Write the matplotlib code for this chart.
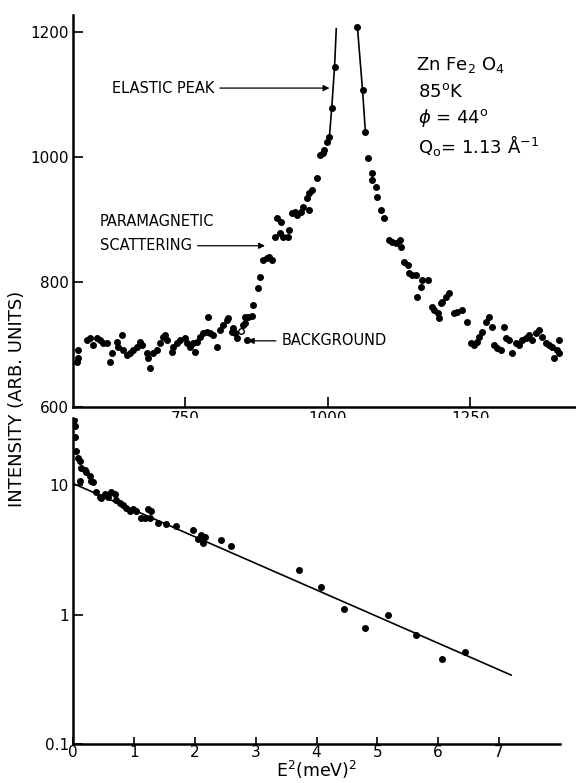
# ZnFe2O4 paramagnetic scattering: TOF spectrum and log intensity vs E^2

import matplotlib
matplotlib.use('Agg')
import matplotlib.pyplot as plt

# Top panel: time-of-flight spectrum (scattered points)
tof_x = [563, 563, 561, 578, 584, 589, 596, 601, 606, 613, 619, 622, 631, 633, 640, 641,
         648, 654, 659, 666, 671, 675, 683, 685, 689, 694, 701, 706, 711, 715, 718, 727,
         729, 736, 741, 750, 753, 758, 764, 767, 771, 776, 781, 788, 790, 793, 799, 806,
         811, 816, 823, 825, 832, 834, 837, 841, 851, 855, 855, 858, 860, 867, 869, 877,
         882, 886, 893, 898, 902, 907, 912, 916, 919, 921, 930, 933, 937, 942, 947, 954,
         956, 963, 968, 968, 972, 981, 986, 991, 994, 998,
         1070, 1077, 1078, 1085, 1087, 1094, 1099, 1108, 1113, 1120, 1126, 1129, 1134, 1140,
         1143, 1148, 1155, 1157, 1164, 1165, 1175, 1182, 1187, 1193, 1195, 1199, 1201, 1208,
         1213, 1222, 1227, 1236, 1244, 1251, 1257, 1262, 1265, 1271, 1278, 1283, 1288, 1292,
         1297, 1304, 1309, 1313, 1318, 1323, 1330, 1335, 1341, 1348, 1353, 1358, 1365, 1370,
         1376, 1383, 1388, 1393, 1397, 1402, 1405, 1405]
tof_y = [691, 678, 672, 707, 710, 699, 710, 707, 702, 702, 672, 686, 704, 696, 715, 691,
         683, 686, 691, 696, 704, 699, 686, 678, 662, 686, 691, 702, 712, 715, 707, 688,
         696, 702, 707, 710, 702, 696, 702, 688, 704, 712, 718, 720, 744, 718, 715, 696,
         723, 731, 739, 742, 720, 726, 718, 710, 731, 734, 744, 707, 744, 746, 763, 790,
         808, 835, 838, 840, 835, 872, 902, 878, 896, 872, 872, 883, 910, 912, 907, 912,
         920, 934, 915, 942, 947, 966, 1003, 1006, 1011, 1024,
         998, 974, 963, 952, 936, 915, 902, 867, 864, 862, 867, 856, 832, 827,
         814, 811, 811, 776, 792, 803, 803, 760, 755, 750, 742, 766, 768, 776,
         782, 750, 752, 755, 736, 702, 699, 704, 712, 720, 736, 744, 728, 699,
         694, 691, 728, 710, 707, 686, 702, 699, 707, 710, 715, 707, 718, 723,
         712, 702, 699, 696, 678, 691, 686, 707]
open_x = [848]
open_y = [722]

# Elastic peak (points joined by lines, cut off at the top)
peak_left_x = [1003, 1007, 1012, 1015]
peak_left_y = [1032, 1078, 1144, 1205]
peak_right_x = [1052, 1061, 1066]
peak_right_y = [1208, 1107, 1040]

# Bottom panel: intensity vs E^2 (log scale)
e2 = [0.02, 0.03, 0.03, 0.05, 0.08, 0.11, 0.13, 0.2, 0.21, 0.28, 0.3, 0.33, 0.11, 0.38,
      0.44, 0.46, 0.52, 0.57, 0.62, 0.69, 0.7, 0.77, 0.82, 0.87, 0.93, 0.98, 1.03, 1.11,
      1.18, 1.23, 1.26, 1.28, 1.39, 1.52, 1.69, 1.97, 2.05, 2.1, 2.13, 2.16, 2.43, 2.6,
      3.72, 4.07, 4.45, 4.8, 5.18, 5.63, 6.07, 6.44]
inten = [32, 28.5, 23.6, 18.5, 16.3, 15.4, 13.5, 13, 12.7, 11.8, 10.8, 10.6, 10.8, 8.9,
         8.1, 8.0, 8.5, 8.1, 8.8, 8.5, 7.7, 7.3, 7.0, 6.7, 6.3, 6.6, 6.3, 5.6,
         5.6, 6.6, 5.6, 6.3, 5.1, 5.0, 4.8, 4.5, 3.85, 4.1, 3.6, 4.0, 3.8, 3.4,
         2.2, 1.63, 1.1, 0.78, 0.99, 0.7, 0.45, 0.51]
fit_x = [0, 7.2]
fit_y = [10.3, 0.34]

fig = plt.figure(figsize=(5.76, 7.83), dpi=100)
ax1 = fig.add_axes([0.127, 0.480, 0.871, 0.501])
ax2 = fig.add_axes([0.127, 0.050, 0.845, 0.416])

for ax in (ax1, ax2):
    ax.spines['top'].set_visible(False)
    ax.spines['right'].set_visible(False)
    ax.spines['left'].set_linewidth(1.8)
    ax.spines['bottom'].set_linewidth(1.8)
    ax.tick_params(direction='in', length=7, width=1.2, labelsize=11, pad=3)

# --- top panel ---
ax1.plot(tof_x, tof_y, 'o', color='black', ms=4)
ax1.plot(open_x, open_y, 'o', mfc='white', mec='black', ms=4)
ax1.plot(peak_left_x, peak_left_y, '-', color='black', lw=1.2)
ax1.plot(peak_left_x[:-1], peak_left_y[:-1], 'o', color='black', ms=4)
ax1.plot(peak_right_x, peak_right_y, '-o', color='black', lw=1.2, ms=4)
ax1.set_xlim(554, 1433)
ax1.set_ylim(600, 1227)
ax1.set_xticks([750, 1000, 1250])
ax1.set_yticks([600, 800, 1000, 1200])
ax1.set_xlabel(r'TOF($\mu$s/m)', fontsize=13, labelpad=8)

arrow = dict(arrowstyle='-|>', color='black', lw=0.9, mutation_scale=9)
ax1.annotate('ELASTIC PEAK', xy=(1008, 1110), xytext=(622, 1110), fontsize=10.5,
             va='center', arrowprops=arrow)
ax1.text(601, 896, 'PARAMAGNETIC', fontsize=10.5, va='center')
ax1.annotate('SCATTERING', xy=(895, 858), xytext=(601, 858), fontsize=10.5,
             va='center', arrowprops=arrow)
ax1.annotate('BACKGROUND', xy=(855, 706), xytext=(919, 706), fontsize=10.5,
             va='center', arrowprops=arrow)

ax1.text(1155, 1147, r'Zn Fe$_2$ O$_4$', fontsize=13, va='center')
ax1.text(1158, 1104, r'85$^{\mathrm{o}}$K', fontsize=13, va='center')
ax1.text(1158, 1062, r'$\phi$ = 44$^{\mathrm{o}}$', fontsize=13, va='center')
ax1.text(1158, 1019, r'Q$_{\mathrm{o}}$= 1.13 Å$^{-1}$', fontsize=13, va='center')

# --- bottom panel ---
ax2.set_yscale('log')
ax2.plot(e2, inten, 'o', color='black', ms=4)
ax2.plot(fit_x, fit_y, '-', color='black', lw=1.2)
ax2.set_xlim(0, 8)
ax2.set_ylim(0.1, 33)
ax2.set_xticks(range(8))
ax2.set_yticks([0.1, 1, 10])
ax2.set_yticklabels(['0.1', '1', '10'])
ax2.minorticks_off()
ax2.tick_params(axis='x', length=5, pad=1)
ax2.set_xlabel(r'E$^2$(meV)$^2$', fontsize=12.5, labelpad=-1)

fig.text(0.03, 0.49, 'INTENSITY (ARB. UNITS)', rotation=90, fontsize=13,
         ha='center', va='center')

fig.savefig('out.png', dpi=100)
